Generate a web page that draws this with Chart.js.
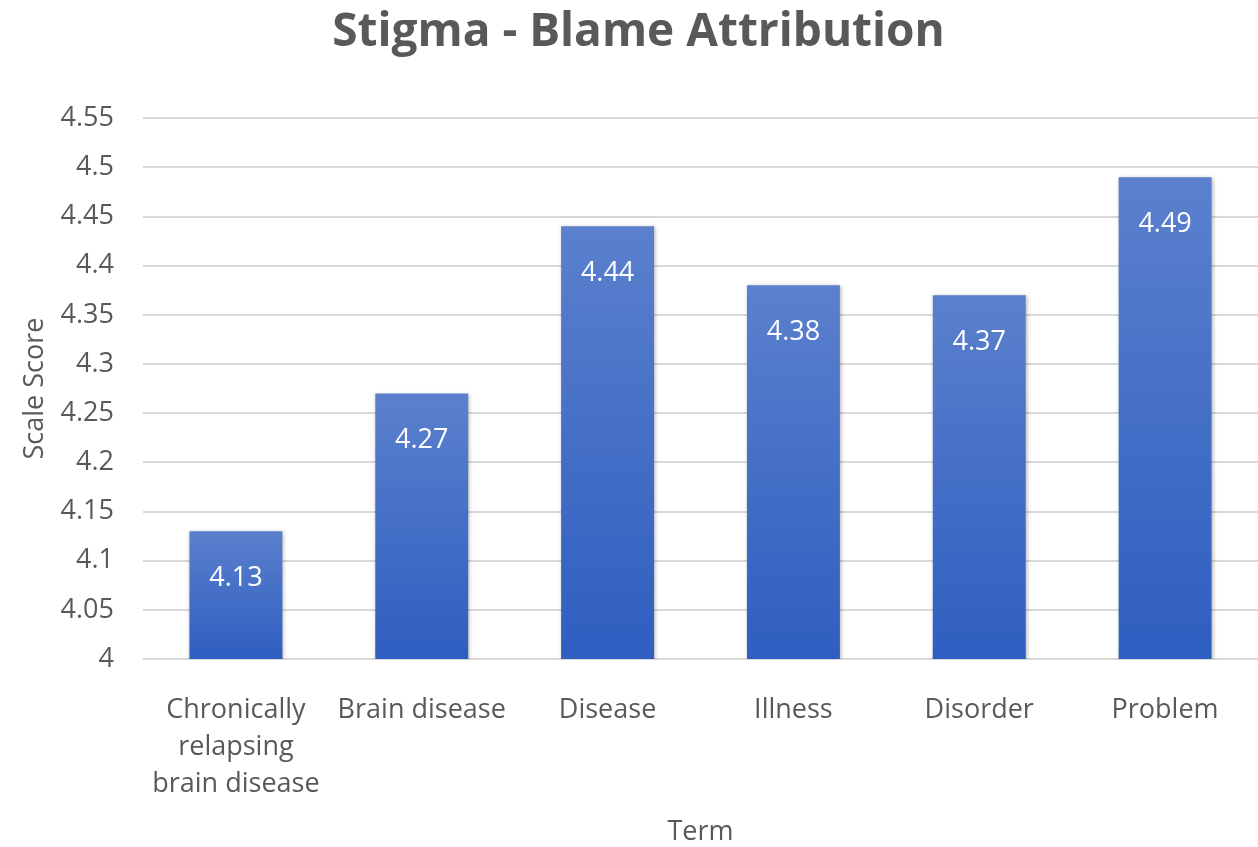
<!DOCTYPE html>
<html>
<head>
<meta charset="utf-8">
<script src="https://cdn.jsdelivr.net/npm/chart.js@4.4.0/dist/chart.umd.min.js"></script>
<style>
  html, body { margin: 0; padding: 0; background: #fff; }
  #wrap { width: 1258px; height: 847px; position: relative; }
</style>
</head>
<body>
<div id="wrap"><canvas id="bar-chart"></canvas></div>
<script>
// chart values
const terms = [
  ["Chronically", "relapsing", "brain disease"],
  "Brain disease",
  "Disease",
  "Illness",
  "Disorder",
  "Problem"
];
const scores = [4.13, 4.27, 4.44, 4.38, 4.37, 4.49];
const yMin = 4;
const yMax = 4.55;
const yStep = 0.05;

const grey = "#595959";
const font = "'Open Sans', 'Noto Sans', sans-serif";

// each bar gets its own light-to-dark blue fade
function barGradient(ctx) {
  const chart = ctx.chart;
  if (!chart.chartArea || ctx.type !== "data") return "#3f6cc6";
  const y = chart.scales.y;
  const top = y.getPixelForValue(scores[ctx.dataIndex]);
  const bottom = y.getPixelForValue(yMin);
  const g = chart.ctx.createLinearGradient(0, top, 0, bottom);
  g.addColorStop(0, "#5b80cd");
  g.addColorStop(1, "#2e5ec0");
  return g;
}

// soft shadow under the bars, like the original
const barShadow = {
  id: "barShadow",
  beforeDatasetsDraw(chart) {
    const c = chart.ctx;
    c.save();
    c.shadowColor = "rgba(0,0,0,0.3)";
    c.shadowBlur = 4;
    c.shadowOffsetX = 1;
    c.shadowOffsetY = 1;
  },
  afterDatasetsDraw(chart) {
    chart.ctx.restore();
  }
};

// white numbers inside the top of every bar
const valueLabels = {
  id: "valueLabels",
  afterDatasetsDraw(chart) {
    const c = chart.ctx;
    const meta = chart.getDatasetMeta(0);
    c.save();
    c.fillStyle = "#ffffff";
    c.font = "27px " + font;
    c.textAlign = "center";
    c.textBaseline = "middle";
    meta.data.forEach((bar, i) => {
      c.fillText(scores[i].toFixed(2), bar.x, bar.y + 47);
    });
    c.restore();
  }
};

new Chart(document.getElementById("bar-chart"), {
  type: "bar",
  data: {
    labels: terms,
    datasets: [{
      data: scores,
      backgroundColor: barGradient,
      categoryPercentage: 1,
      barPercentage: 0.5
    }]
  },
  options: {
    responsive: true,
    maintainAspectRatio: false,
    animation: false,
    layout: { padding: { left: 19, right: 0, top: 0, bottom: 1 } },
    plugins: {
      legend: { display: false },
      tooltip: { enabled: false },
      title: {
        display: true,
        text: "Stigma - Blame Attribution",
        color: grey,
        font: { family: font, size: 46, weight: "bold" },
        padding: { top: 5, bottom: 58 }
      }
    },
    scales: {
      x: {
        grid: { display: false, drawTicks: false },
        border: { display: false },
        ticks: {
          color: grey,
          font: { family: font, size: 27, lineHeight: 1.37 },
          padding: 33,
          maxRotation: 0,
          autoSkip: false
        },
        title: {
          display: true,
          text: "Term",
          color: grey,
          font: { family: font, size: 27, lineHeight: 1 },
          padding: { top: 16, bottom: 0 }
        },
        // chart.js reserves the tick padding twice, trim it back
        afterFit: (s) => { s.height = 187; }
      },
      y: {
        min: yMin,
        max: yMax,
        grid: { color: "#d9d9d9", lineWidth: 2, drawTicks: false },
        border: { display: false },
        ticks: {
          stepSize: yStep,
          color: grey,
          font: { family: font, size: 27 },
          padding: 29,
          callback: (v) => +v.toFixed(2)
        },
        title: {
          display: true,
          text: "Scale Score",
          color: grey,
          font: { family: font, size: 27 },
          padding: { top: 0, bottom: 8 }
        },
        afterFit: (s) => { s.width = 124; }
      }
    }
  },
  plugins: [barShadow, valueLabels]
});
</script>
</body>
</html>
